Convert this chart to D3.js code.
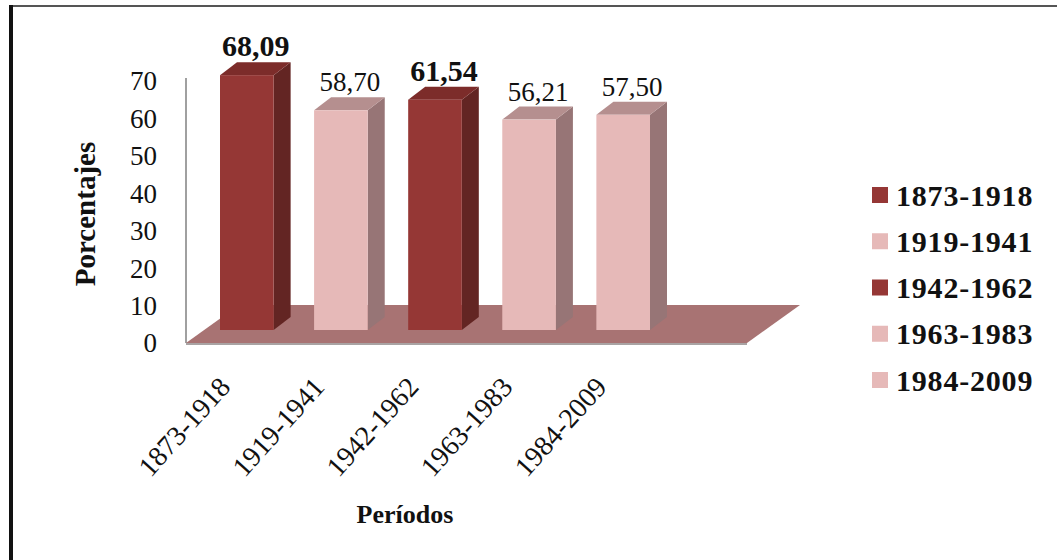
<!DOCTYPE html>
<html>
<head>
<meta charset="utf-8">
<script src="https://cdn.jsdelivr.net/npm/d3@7"></script>
<style>
  html, body { margin: 0; padding: 0; background: #fff; }
  svg { display: block; }
  text { font-family: "Liberation Serif", "Times New Roman", serif; fill: #111; }
</style>
</head>
<body>
<svg id="chart" width="1057" height="560"></svg>
<script>
// Data
const periods = ["1873-1918", "1919-1941", "1942-1962", "1963-1983", "1984-2009"];
const percentages = [68.09, 58.70, 61.54, 56.21, 57.50];
const labelTexts = ["68,09", "58,70", "61,54", "56,21", "57,50"];
const boldLabel = [true, false, true, false, false];
const yTicks = [0, 10, 20, 30, 40, 50, 60, 70];
const yTitle = "Porcentajes";
const xTitle = "Períodos";

// Colours: dark red series and light pink series, each with front / side / top shades
const palette = {
  dark:  { front: "#953735", side: "#632523", top: "#7c2c2a" },
  light: { front: "#e6b9b8", side: "#977576", top: "#b58f8f" }
};
const seriesTone = ["dark", "light", "dark", "light", "light"];

const svg = d3.select("#chart");

// Frame
svg.append("line").attr("x1", 9).attr("x2", 1057).attr("y1", 6).attr("y2", 6)
  .attr("stroke", "#555").attr("stroke-width", 2);
svg.append("line").attr("x1", 11).attr("x2", 11).attr("y1", 5).attr("y2", 560)
  .attr("stroke", "#111").attr("stroke-width", 4);

// Scales
const x = d3.scaleBand().domain(periods).range([220, 650]).paddingInner(0.43).paddingOuter(0);
const y = d3.scaleLinear().domain([0, 70]).range([343, 81]);

// 3D geometry: floor depth vector and bar depth
const floorDepth = { dx: 53, dy: -38 };
const barShift = { dx: 0, dy: -13 };   // bars stand part way back on the floor
const barDepth = { dx: 17, dy: -13 };

// Left wall edge
svg.append("line").attr("x1", 186).attr("x2", 186).attr("y1", y(70) - 3).attr("y2", y(0))
  .attr("stroke", "#a0a0a0").attr("stroke-width", 2);

// Floor
const fx0 = 186, fx1 = 747, fy = y(0);
svg.append("polygon")
  .attr("points", [
    [fx0, fy], [fx1, fy], [fx1 + floorDepth.dx, fy + floorDepth.dy], [fx0 + floorDepth.dx, fy + floorDepth.dy]
  ].map(p => p.join(",")).join(" "))
  .attr("fill", "#a87373");
svg.append("line").attr("x1", fx0).attr("x2", fx1).attr("y1", fy + 1).attr("y2", fy + 1)
  .attr("stroke", "#a9a3a3").attr("stroke-width", 2);

// Bars
const bars = svg.append("g").attr("transform", `translate(${barShift.dx},${barShift.dy})`);
const bw = x.bandwidth();
periods.forEach((p, i) => {
  const v = percentages[i];
  const x0 = x(p), x1 = x0 + bw;
  const y0 = y(v), yb = y(0);
  const c = palette[seriesTone[i]];
  const g = bars.append("g");
  // side
  g.append("polygon").attr("points", [
    [x1, y0], [x1 + barDepth.dx, y0 + barDepth.dy], [x1 + barDepth.dx, yb + barDepth.dy], [x1, yb]
  ].map(q => q.join(",")).join(" ")).attr("fill", c.side);
  // top
  g.append("polygon").attr("points", [
    [x0, y0], [x0 + barDepth.dx, y0 + barDepth.dy], [x1 + barDepth.dx, y0 + barDepth.dy], [x1, y0]
  ].map(q => q.join(",")).join(" ")).attr("fill", c.top);
  // front
  g.append("rect").attr("x", x0).attr("y", y0).attr("width", bw).attr("height", yb - y0)
    .attr("fill", c.front);
  // value label
  g.append("text")
    .attr("x", x0 + bw / 2 + 9)
    .attr("y", y0 + barDepth.dy - 6)
    .attr("text-anchor", "middle")
    .attr("font-size", boldLabel[i] ? 30 : 27)
    .attr("font-weight", boldLabel[i] ? "bold" : "normal")
    .text(labelTexts[i]);
});

// Y axis tick labels
svg.append("g").selectAll("text").data(yTicks).join("text")
  .attr("x", 157).attr("y", d => y(d)).attr("dy", "0.35em")
  .attr("text-anchor", "end").attr("font-size", 27)
  .text(d => d);

// Y title
svg.append("text")
  .attr("transform", "translate(95,214) rotate(-90)")
  .attr("text-anchor", "middle").attr("font-size", 29).attr("font-weight", "bold")
  .text(yTitle);

// X category labels
svg.append("g").selectAll("text").data(periods).join("text")
  .attr("transform", d => `translate(${x(d) + bw / 2 - 15},${388}) rotate(-48)`)
  .attr("text-anchor", "end").attr("font-size", 28)
  .text(d => d);

// X title
svg.append("text").attr("x", 405).attr("y", 523)
  .attr("text-anchor", "middle").attr("font-size", 26).attr("font-weight", "bold")
  .text(xTitle);

// Legend
const legendY = d3.scalePoint().domain(periods).range([195, 380]);
const legend = svg.append("g").selectAll("g").data(periods).join("g")
  .attr("transform", d => `translate(872,${legendY(d)})`);
legend.append("rect").attr("x", 0).attr("y", -8).attr("width", 16).attr("height", 16)
  .attr("fill", (d, i) => palette[seriesTone[i]].front);
legend.append("text").attr("x", 24).attr("dy", "0.35em")
  .attr("font-size", 30).attr("font-weight", "bold").attr("letter-spacing", 0.8)
  .text(d => d);
</script>
</body>
</html>
